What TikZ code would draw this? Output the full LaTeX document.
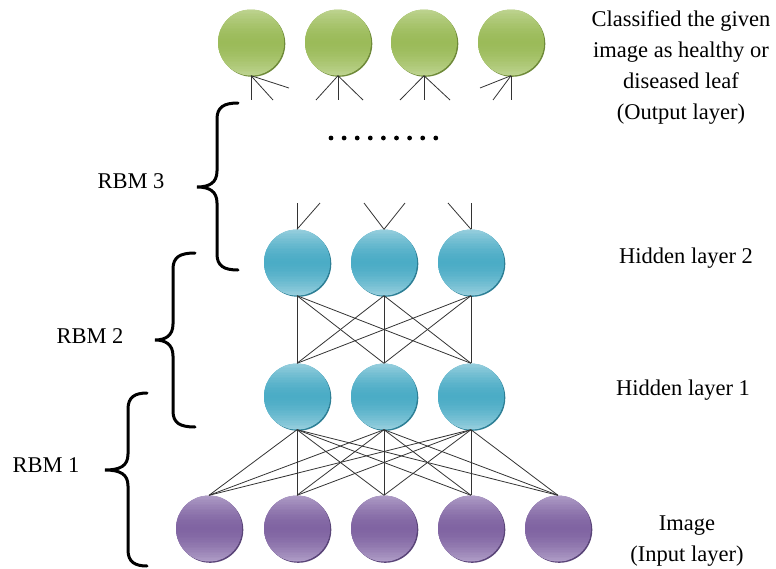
\documentclass[tikz,border=0pt]{standalone}
\usepackage{fontspec}
\setmainfont{Liberation Serif}
\usetikzlibrary{shadows,calc}

\definecolor{grn}{HTML}{9BBB59}
\definecolor{grnlt}{HTML}{BDD38F}
\definecolor{grndk}{HTML}{6F8A3A}
\definecolor{cyn}{HTML}{4BACC6}
\definecolor{cynlt}{HTML}{96CEDD}
\definecolor{cyndk}{HTML}{2E7F95}
\definecolor{prp}{HTML}{8064A2}
\definecolor{prplt}{HTML}{AE9CC6}
\definecolor{prpdk}{HTML}{5A4578}

\tikzset{
  % vertical gradient built from thin bands: light at the rims, base colour in the middle
  bandfill/.style={path picture={
    \foreach \k in {0,...,39}{
      \pgfmathsetmacro\p{100*(abs(\k-19.5)/19.5)^1.6}
      \fill[#1lt!\p!#1]
        ($(path picture bounding box.north west)!{\k/40}!(path picture bounding box.south west)$)
        rectangle
        ($(path picture bounding box.north east)!{(\k+1.4)/40}!(path picture bounding box.south east)$);
    }}},
  unit/.style={circle, minimum size=66pt, inner sep=0pt, draw=none,
    fill=#1, bandfill=#1,
    drop shadow={shadow xshift=1.3pt, shadow yshift=-1.3pt, fill=#1dk, opacity=1}},
  outunit/.style={unit=grn},
  hidunit/.style={unit=cyn},
  inunit/.style={unit=prp},
  link/.style={draw=black!80, line width=0.8pt},
  curly/.style={line width=3pt, line cap=round},
  lbl/.style={font=\fontsize{22.5}{31}\selectfont, inner sep=0pt, align=center}
}

% curly brace: end x, stem x, tip x, top y, tip y, bottom y
\newcommand\curlybrace[6]{%
  \draw[curly] (#1,#4) .. controls ({#2+7},#4) and (#2,{#4+4}) .. (#2,{#4+16})
    -- (#2,{#5-16}) .. controls (#2,{#5-4}) and ({#2-8},#5) .. (#3,#5)
    .. controls ({#2-8},#5) and (#2,{#5+4}) .. (#2,{#5+16})
    -- (#2,{#6-16}) .. controls (#2,{#6-4}) and ({#2+7},#6) .. (#1,#6);}

\begin{document}
\begin{tikzpicture}[x=1pt, y=-1pt]
\useasboundingbox (0,0) rectangle (776,568);

% output layer
\foreach \x [count=\i] in {251,338,424,511}
  \node[outunit] (o\i) at (\x,42.5) {};

% hidden layers
\foreach \x [count=\i] in {297,384,471} {
  \node[hidunit] (hb\i) at (\x,262.5) {};
  \node[hidunit] (ha\i) at (\x,396.5) {};
}

% input layer
\foreach \x [count=\i] in {209,297,384,471,558}
  \node[inunit] (v\i) at (\x,528.5) {};

% free ends of the partial connections
\coordinate (o1a) at (251,100); \coordinate (o1b) at (273,100); \coordinate (o1c) at (289,88);
\coordinate (o2a) at (316,100); \coordinate (o2b) at (338,100); \coordinate (o2c) at (363,100);
\coordinate (o3a) at (400,100); \coordinate (o3b) at (424,100); \coordinate (o3c) at (450,100);
\coordinate (o4a) at (480,88);  \coordinate (o4b) at (493,100); \coordinate (o4c) at (511,100);
\coordinate (hb1a) at (297,203); \coordinate (hb1b) at (320,203);
\coordinate (hb2a) at (364,203); \coordinate (hb2b) at (405,203);
\coordinate (hb3a) at (448,203); \coordinate (hb3b) at (471,203);

\foreach \i in {1,...,4}
  \foreach \s in {a,b,c}
    \draw[link] (o\i.south) -- (o\i\s);
\draw[link] (hb1.north) -- (hb1a); \draw[link] (hb1.north) -- (hb1b);
\draw[link] (hb2.north) -- (hb2a); \draw[link] (hb2.north) -- (hb2b);
\draw[link] (hb3.north) -- (hb3a); \draw[link] (hb3.north) -- (hb3b);

% full connections between layers
\foreach \i in {1,2,3}
  \foreach \j in {1,2,3}
    \draw[link] (hb\i.south) -- (ha\j.north);
\foreach \i in {1,2,3}
  \foreach \j in {1,...,5}
    \draw[link] (ha\i.south) -- (v\j.north);

% ellipsis between the output layer and hidden layer 2
\foreach \k in {0,...,8}
  \fill ({331+\k*13.1},138) circle (2.4pt);

% braces
\curlybrace{238}{217}{197}{103}{187}{270}
\curlybrace{195}{173}{155}{253}{340}{427}
\curlybrace{147}{128}{105}{393}{470}{566}

% labels
\node[lbl, anchor=base] (r3) at (131,188) {RBM 3};
\node[lbl, anchor=base] (r2) at (90,343) {RBM 2};
\node[lbl, anchor=base] (r1) at (46,472) {RBM 1};
\node[lbl] (lout) at (681,68) {Classified the given\\image as healthy or\\diseased leaf\\(Output layer)};
\node[lbl, anchor=base] (lh2) at (686,263) {Hidden layer 2};
\node[lbl, anchor=base] (lh1) at (683,395) {Hidden layer 1};
\node[lbl] (lin) at (687,541) {Image\\(Input layer)};
\end{tikzpicture}
\end{document}
